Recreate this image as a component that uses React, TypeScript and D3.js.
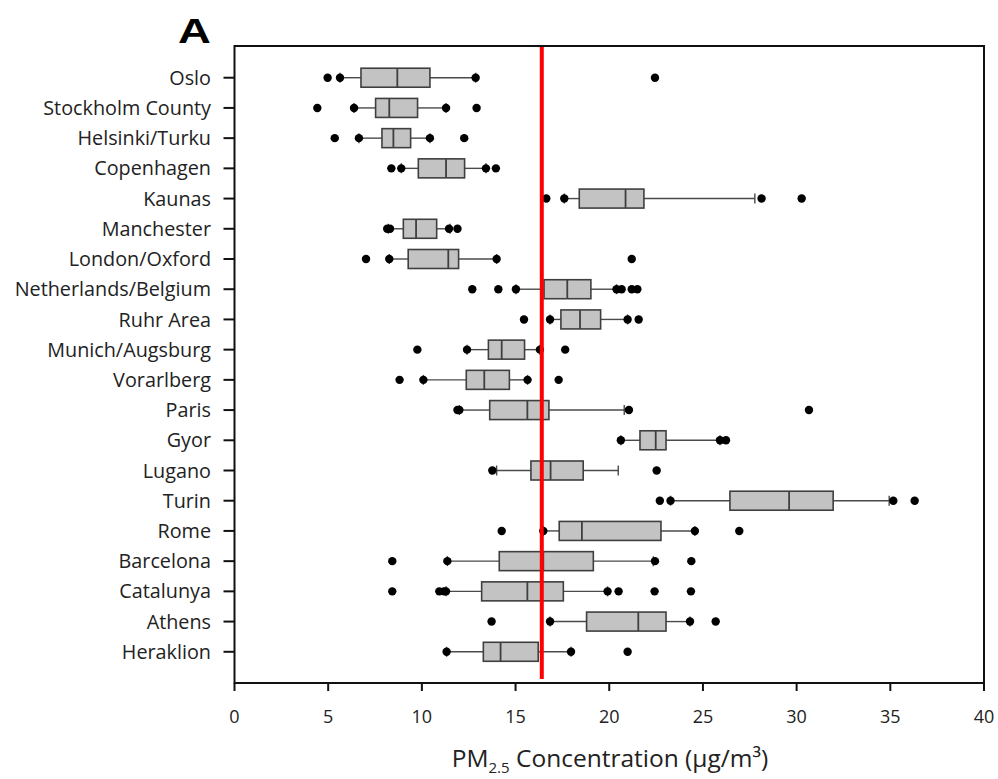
import React, { useEffect } from "react";
import * as d3 from "d3";

const cities = [
  "Oslo", "Stockholm County", "Helsinki/Turku", "Copenhagen", "Kaunas", "Manchester",
  "London/Oxford", "Netherlands/Belgium", "Ruhr Area", "Munich/Augsburg", "Vorarlberg",
  "Paris", "Gyor", "Lugano", "Turin", "Rome", "Barcelona", "Catalunya", "Athens", "Heraklion",
];

// [whisker low, Q1, median, Q3, whisker high]
const boxStats: number[][] = [
  [5.63, 6.75, 8.69, 10.43, 12.87],
  [6.38, 7.53, 8.26, 9.77, 11.29],
  [6.64, 7.87, 8.48, 9.4, 10.43],
  [8.9, 9.81, 11.29, 12.28, 13.42],
  [17.6, 18.4, 20.87, 21.85, 27.77],
  [8.21, 9.01, 9.69, 10.79, 11.5],
  [8.26, 9.27, 11.41, 11.96, 13.99],
  [15.02, 16.52, 17.76, 19.02, 20.39],
  [16.84, 17.42, 18.44, 19.54, 20.98],
  [12.41, 13.55, 14.26, 15.48, 16.3],
  [10.08, 12.37, 13.33, 14.67, 15.64],
  [12.0, 13.62, 15.63, 16.78, 20.8],
  [20.62, 21.64, 22.48, 23.03, 25.91],
  [13.99, 15.82, 16.87, 18.61, 20.48],
  [23.27, 26.44, 29.6, 31.95, 34.94],
  [16.48, 17.33, 18.54, 22.76, 24.57],
  [11.36, 14.13, 16.48, 19.15, 22.35],
  [11.29, 13.19, 15.63, 17.55, 19.91],
  [16.84, 18.79, 21.55, 23.03, 24.31],
  [11.32, 13.28, 14.2, 16.21, 17.96],
];

// individual points drawn as dots
const points: number[][] = [
  [4.97, 5.63, 12.87, 22.44],
  [4.42, 6.38, 11.29, 12.92],
  [5.35, 6.64, 10.43, 12.26],
  [8.37, 8.9, 13.42, 13.95],
  [16.64, 17.6, 28.13, 30.27],
  [8.15, 8.3, 11.45, 11.9],
  [7.02, 8.26, 13.99, 21.2],
  [12.69, 14.08, 15.02, 20.39, 20.66, 21.2, 21.5],
  [15.45, 16.84, 20.98, 21.57],
  [9.76, 12.41, 16.3, 17.65],
  [8.81, 10.08, 15.64, 17.3],
  [11.9, 12.0, 21.05, 30.66],
  [20.62, 25.91, 26.23],
  [13.76, 22.53],
  [22.7, 23.27, 35.16, 36.3],
  [14.26, 16.48, 24.57, 26.94],
  [8.42, 11.36, 22.44, 24.38],
  [8.42, 10.93, 11.18, 11.29, 19.91, 20.5, 22.42, 24.36],
  [13.72, 16.84, 24.31, 25.68],
  [11.32, 17.96, 20.98],
];

const xTicks = [0, 5, 10, 15, 20, 25, 30, 35, 40];
const referenceLine = 16.4;

const W = 998;
const H = 779;
const left = 234.5;
const right = 984;
const top = 46;
const bottom = 683;
const font = "'Open Sans', sans-serif";

export default function App() {
  useEffect(() => {
    document.body.style.margin = "0";
  }, []);

  const x = d3.scaleLinear().domain([0, 40]).range([left, right]);
  const y = d3.scalePoint<string>().domain(cities).range([47.5, 682]).padding(1);
  const boxH = 19;
  const capH = 10;

  return (
    <svg width={W} height={H} style={{ display: "block", position: "absolute", left: 0, top: 0, background: "#fff" }}>
      {cities.map((c, i) => {
        const cy = y(c)!;
        const [lo, q1, med, q3, hi] = boxStats[i];
        return (
          <g key={c}>
            <line x1={x(lo)} x2={x(q1)} y1={cy} y2={cy} stroke="#4a4a4a" strokeWidth={1.4} />
            <line x1={x(q3)} x2={x(hi)} y1={cy} y2={cy} stroke="#4a4a4a" strokeWidth={1.4} />
            <line x1={x(lo)} x2={x(lo)} y1={cy - capH / 2} y2={cy + capH / 2} stroke="#4a4a4a" strokeWidth={1.4} />
            <line x1={x(hi)} x2={x(hi)} y1={cy - capH / 2} y2={cy + capH / 2} stroke="#4a4a4a" strokeWidth={1.4} />
            <rect x={x(q1)} y={cy - boxH / 2} width={x(q3) - x(q1)} height={boxH} fill="#c3c3c3" stroke="#3f3f3f" strokeWidth={1.6} />
            <line x1={x(med)} x2={x(med)} y1={cy - boxH / 2} y2={cy + boxH / 2} stroke="#3f3f3f" strokeWidth={1.8} />
            {points[i].map((p, j) => (
              <circle key={j} cx={x(p)} cy={cy} r={4.2} fill="#000" />
            ))}
          </g>
        );
      })}
      <line x1={x(referenceLine)} x2={x(referenceLine)} y1={45} y2={679} stroke="#ff0000" strokeWidth={4} />
      <rect x={left} y={top} width={right - left} height={bottom - top} fill="none" stroke="#111" strokeWidth={2} />
      {cities.map((c) => (
        <g key={"t" + c}>
          <line x1={left - 11} x2={left} y1={y(c)!} y2={y(c)!} stroke="#111" strokeWidth={2} />
          <text x={211} y={y(c)!} dy="0.36em" textAnchor="end" fontFamily={font} fontSize={19.8} fill="#222">
            {c}
          </text>
        </g>
      ))}
      {xTicks.map((t) => (
        <g key={"x" + t}>
          <line x1={x(t)} x2={x(t)} y1={bottom} y2={bottom + 8} stroke="#111" strokeWidth={2} />
          <text x={x(t)} y={717} dy="0.36em" textAnchor="middle" fontFamily={font} fontSize={18} fill="#222">
            {t}
          </text>
        </g>
      ))}
      <text x={610} y={767} textAnchor="middle" fontFamily={font} fontSize={24.5} fill="#222">
        PM<tspan fontSize={15} dy={6}>2.5</tspan>
        <tspan dy={-6}> Concentration (µg/m³)</tspan>
      </text>
      <g transform="translate(178,43) scale(1.3,1)">
        <text x={0} y={0} fontFamily="'Liberation Sans', Arial, sans-serif" fontWeight="bold" fontSize={35} fill="#000">
          A
        </text>
      </g>
    </svg>
  );
}
